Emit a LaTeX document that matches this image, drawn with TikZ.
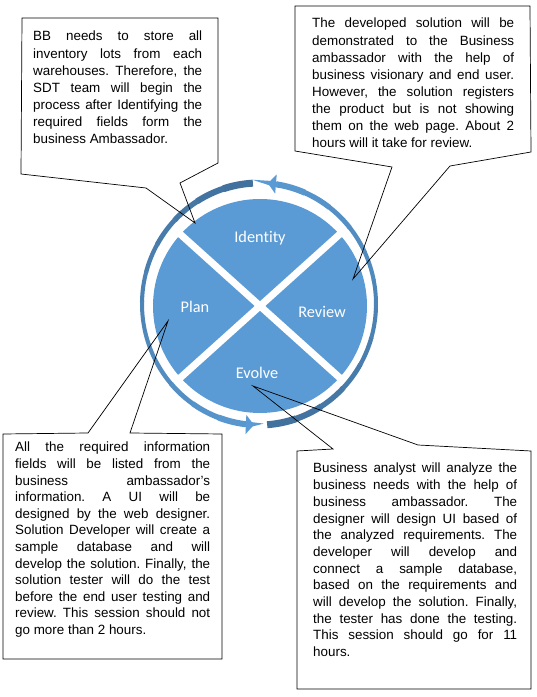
\documentclass[tikz,border=0pt]{standalone}
\usepackage{fontspec}
\setmainfont{Liberation Sans}
\newfontfamily\segfont[Ligatures=NoCommon]{Carlito}
\usetikzlibrary{arrows.meta}
\frenchspacing

\definecolor{pieblue}{HTML}{5B9BD5}
\definecolor{ringdark}{HTML}{41719C}
\definecolor{ringlight}{HTML}{5B9BD5}

\tikzset{
  notetext/.style={anchor=north west,inner sep=0pt,align=justify,
    font=\fontsize{13.4}{17.1}\selectfont},
  callout/.style={draw=black,line width=0.7pt,line join=miter},
  seglabel/.style={text=white,font=\segfont\fontsize{16.3}{18}\selectfont},
  ringline/.style={line width=5.5pt},
  gap/.style={draw=white,line width=7pt}
}

\begin{document}
\begin{tikzpicture}[x=1pt,y=1pt]
    \useasboundingbox (0,0) rectangle (537,697);
    % pie
    \coordinate (pie) at (260,391);
    \coordinate (ring) at (259,393);
    \fill[pieblue] (pie) circle[radius=107];
    \foreach \a in {42,138,222,318}
      \draw[gap] (pie) -- ++(\a:112);
    \node[seglabel] (identity) at (260,459) {Identity};
    \node[seglabel] (plan) at (195,390) {Plan};
    \node[seglabel] (review) at (322,385) {Review};
    \node[seglabel] (evolve) at (257,324) {Evolve};
    % left arrow, top to bottom
    \foreach \i in {0,...,11} {
      \pgfmathsetmacro\sa{93+\i*14.25}
      \pgfmathsetmacro\ea{\sa+14.75}
      \pgfmathtruncatemacro\p{\i*8}
      \pgfmathsetmacro\w{4+3*((\i-6)/6)^2}
      \draw[ringline,line width=\w pt,color=ringlight!\p!ringdark] (ring) ++(\sa:117 and 121)
        arc[start angle=\sa,end angle=\ea,x radius=117,y radius=121];
    }
    \draw[ringline,ringlight,-{Triangle[width=19pt,length=8pt]}] (ring) ++(263.5:117 and 121)
      arc[start angle=263.5,end angle=267.5,x radius=117,y radius=121];
    % right arrow, bottom to top
    \foreach \i in {0,...,11} {
      \pgfmathsetmacro\sa{274+\i*13.9}
      \pgfmathsetmacro\ea{\sa+14.4}
      \pgfmathtruncatemacro\p{\i*8}
      \pgfmathsetmacro\w{4+3*((\i-6)/6)^2}
      \draw[ringline,line width=\w pt,color=ringlight!\p!ringdark] (ring) ++(\sa:117 and 121)
        arc[start angle=\sa,end angle=\ea,x radius=117,y radius=121];
    }
    \draw[ringline,ringlight,-{Triangle[width=19pt,length=8pt]}] (ring) ++(440.5:117 and 121)
      arc[start angle=440.5,end angle=445.6,x radius=117,y radius=121];
    % pointer tips
    \coordinate (tipIdentity) at (195,474);
    \coordinate (tipReview) at (353,418);
    \coordinate (tipPlan) at (168,376);
    \coordinate (tipEvolve) at (253,311);
    % callouts
    \draw[callout] (22,679) -- (218,679) -- (218,534) -- (180,514) -- (tipIdentity)
      -- (146,509) -- (21,523) -- cycle;
    \draw[callout] (295,691) -- (530,691) -- (531,545) -- (450,531) -- (tipReview)
      -- (392,530) -- (295,546) -- cycle;
    \draw[callout] (3,263) -- (88,264) -- (tipPlan) -- (130,264) -- (222,263)
      -- (222,38) -- (3,38) -- cycle;
    \draw[callout] (297,246) -- (333,248) -- (tipEvolve) -- (418,252) -- (531,246)
      -- (531,8) -- (297,8) -- cycle;
    \node[notetext,text width=169pt] (noteIdentity) at (33,666) {BB needs to store all\linebreak
      inventory lots from each\linebreak
      warehouses. Therefore, the\linebreak
      SDT team will begin the\linebreak
      process after Identifying the\linebreak
      required fields form the\linebreak
      business Ambassador.};
    \node[notetext,text width=202pt] (noteReview) at (312,679) {The developed solution will be\linebreak
      demonstrated to the Business\linebreak
      ambassador with the help of\linebreak
      business visionary and end user.\linebreak
      However, the solution registers\linebreak
      the product but is not showing\linebreak
      them on the web page. About 2\linebreak
      hours will it take for review.};
    \node[notetext,text width=195pt,font=\fontsize{13.4}{16.6}\selectfont] (notePlan) at (15,255) {All the required information\linebreak
      fields will be listed from the\linebreak
      business ambassador’s\linebreak
      information. A UI will be\linebreak
      designed by the web designer.\linebreak
      Solution Developer will create a\linebreak
      sample database and will\linebreak
      develop the solution. Finally, the\linebreak
      solution tester will do the test\linebreak
      before the end user testing and\linebreak
      review. This session should not\linebreak
      go more than 2 hours.};
    \node[notetext,text width=204pt,font=\fontsize{13.4}{16.7}\selectfont] (noteEvolve) at (313,234) {Business analyst will analyze the\linebreak
      business needs with the help of\linebreak
      business ambassador. The\linebreak
      designer will design UI based of\linebreak
      the analyzed requirements. The\linebreak
      developer will develop and\linebreak
      connect a sample database,\linebreak
      based on the requirements and\linebreak
      will develop the solution. Finally,\linebreak
      the tester has done the testing.\linebreak
      This session should go for 11\linebreak
      hours.};
\end{tikzpicture}
\end{document}
